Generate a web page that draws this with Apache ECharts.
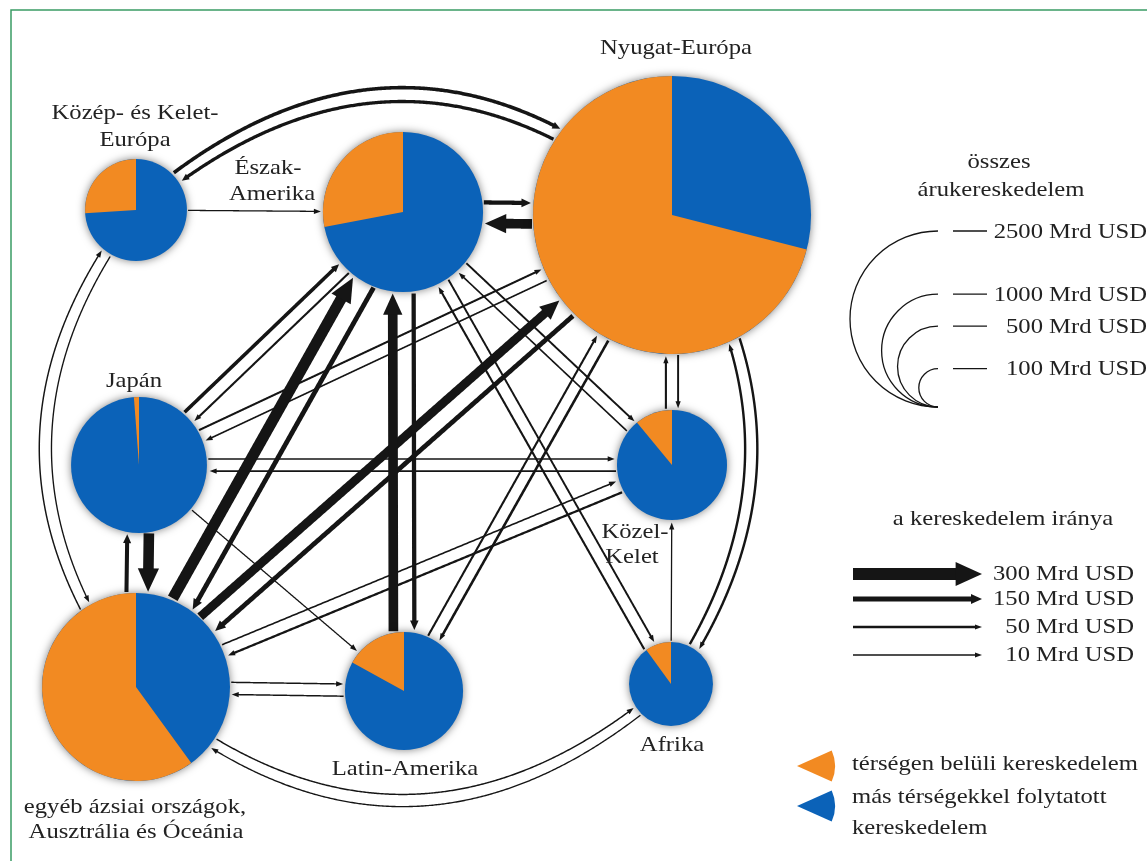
<!DOCTYPE html>
<html>
<head>
<meta charset="utf-8">
<script src="https://cdn.jsdelivr.net/npm/echarts@6/dist/echarts.min.js"></script>
<style>html,body{margin:0;padding:0;background:#fff}#main{width:1147px;height:861px}</style>
</head>
<body>
<div id="main"></div>
<script>
// régiók: középpont (elrendezés), összes kereskedelem (Mrd USD), térségen belüli arány
var regions = ['Közép- és Kelet-Európa', 'Észak-Amerika', 'Nyugat-Európa', 'Japán', 'Közel-Kelet',
  'egyéb ázsiai országok, Ausztrália és Óceánia', 'Latin-Amerika', 'Afrika'];
var regionX = [136, 403, 672, 139, 672, 136, 404, 671];
var regionY = [210, 212, 215, 465, 465, 687, 691, 684];
var totalTrade = [810, 2060, 6350, 1470, 950, 2860, 1100, 540];
var intraShare = [0.26, 0.28, 0.71, 0.012, 0.11, 0.60, 0.17, 0.10];

// kereskedelmi irányok: [honnan, hová, Mrd USD]
var flows = [
  [0, 2, 90], [2, 0, 80], [0, 1, 10], [1, 2, 120], [2, 1, 250],
  [0, 5, 12], [5, 0, 15], [3, 1, 90], [1, 3, 35], [3, 2, 35], [2, 3, 20],
  [3, 4, 15], [4, 3, 25], [3, 6, 10], [3, 5, 270], [5, 3, 110],
  [5, 1, 280], [1, 5, 140], [5, 2, 230], [2, 5, 140], [5, 6, 15], [6, 5, 15],
  [5, 4, 20], [4, 5, 40], [5, 7, 15], [7, 5, 12], [6, 1, 250], [1, 6, 120],
  [6, 2, 35], [2, 6, 50], [1, 4, 30], [4, 1, 20], [1, 7, 30], [7, 1, 35],
  [2, 4, 30], [4, 2, 35], [2, 7, 45], [7, 2, 45], [7, 4, 10]
];
// külső íven futó kapcsolatok és görbületük
var arcPairs = [[0, 2, 0.44], [0, 5, 0.38], [5, 7, 0.43], [2, 7, 0.34]];

// jelmagyarázat
var sizeLegend = [2500, 1000, 500, 100];
var arrowLegend = [300, 150, 50, 10];

var ORANGE = '#F28A22', BLUE = '#0B62B8', INK = '#151515';
var FONT = '"Liberation Serif", "Times New Roman", serif';

function sizeOf(v) { return 2 + 1.72 * Math.sqrt(v); }
var wStops = [[0, 0.9], [10, 1.3], [50, 2.6], [150, 5], [300, 12]];
function lineW(v) {
  for (var i = 1; i < wStops.length; i++) {
    if (v <= wStops[i][0]) {
      var a = wStops[i - 1], b = wStops[i];
      return a[1] + (v - a[0]) / (b[0] - a[0]) * (b[1] - a[1]);
    }
  }
  return wStops[wStops.length - 1][1];
}
function headHW(w) { return Math.max(2.6, w); }
function headL(w) { return Math.max(7, 2.2 * w); }
function dist(p, q) { return Math.hypot(p[0] - q[0], p[1] - q[1]); }

function findFlow(a, b) {
  for (var i = 0; i < flows.length; i++) if (flows[i][0] === a && flows[i][1] === b) return flows[i];
  return null;
}
function arcOf(a, b) {
  for (var i = 0; i < arcPairs.length; i++) {
    var p = arcPairs[i];
    if ((p[0] === a && p[1] === b) || (p[0] === b && p[1] === a)) return p[2];
  }
  return 0;
}

function arrowChildren(pts, w) {
  var hl = headL(w), hw = headHW(w);
  var tip = pts[pts.length - 1];
  var k = pts.length - 2;
  while (k > 0 && dist(pts[k], tip) < hl) k--;
  var p = pts[k], d = dist(p, tip);
  var ux = (tip[0] - p[0]) / d, uy = (tip[1] - p[1]) / d;
  var base = [tip[0] - ux * hl, tip[1] - uy * hl];
  var shaft = pts.slice(0, k + 1).concat([[base[0] + ux, base[1] + uy]]);
  return [
    {type: 'polyline', shape: {points: shaft}, style: {stroke: INK, lineWidth: w, fill: 'none'}},
    {type: 'polygon', shape: {points: [tip, [base[0] - uy * hw, base[1] + ux * hw], [base[0] + uy * hw, base[1] - ux * hw]]},
      style: {fill: INK}}
  ];
}

var nodeData = regions.map(function (n, i) {
  return {name: n, value: [regionX[i], regionY[i], totalTrade[i], intraShare[i]]};
});

function renderFlow(params, api) {
  var f = flows[params.dataIndex];
  var a = f[0], b = f[1], w = lineW(f[2]);
  var A = api.coord([regionX[a], regionY[a]]), B = api.coord([regionX[b], regionY[b]]);
  var rA = api.size([sizeOf(totalTrade[a]), 0])[0], rB = api.size([sizeOf(totalTrade[b]), 0])[0];
  var cen = [0, 0];
  for (var i = 0; i < regionX.length; i++) {
    var c = api.coord([regionX[i], regionY[i]]);
    cen[0] += c[0] / regionX.length; cen[1] += c[1] / regionX.length;
  }
  var rev = findFlow(b, a);
  var off = rev ? (headHW(w) + headHW(lineW(rev[2])) + 7) / 2 : 0;
  var dx = B[0] - A[0], dy = B[1] - A[1], L = Math.hypot(dx, dy);
  var nx = dy / L, ny = -dx / L;
  var P0 = [A[0] + nx * off, A[1] + ny * off], P2 = [B[0] + nx * off, B[1] + ny * off];
  var C = [(P0[0] + P2[0]) / 2, (P0[1] + P2[1]) / 2];
  var curv = arcOf(a, b);
  if (curv) {
    var M = [(A[0] + B[0]) / 2, (A[1] + B[1]) / 2];
    var s = ((M[0] - cen[0]) * nx + (M[1] - cen[1]) * ny) >= 0 ? 1 : -1;
    C = [C[0] + s * nx * curv * L, C[1] + s * ny * curv * L];
  }
  var N = 400, pts = [];
  for (var j = 0; j <= N; j++) {
    var t = j / N, u = 1 - t;
    pts.push([u * u * P0[0] + 2 * u * t * C[0] + t * t * P2[0], u * u * P0[1] + 2 * u * t * C[1] + t * t * P2[1]]);
  }
  var i0 = 0; while (i0 < N && dist(pts[i0], A) < rA + 1) i0++;
  var i1 = N; while (i1 > 0 && dist(pts[i1], B) < rB + 2) i1--;
  return {type: 'group', children: arrowChildren(pts.slice(i0, i1 + 1), w)};
}

function renderPie(params, api) {
  var c = api.coord([api.value(0), api.value(1)]);
  var r = api.size([sizeOf(api.value(2)), 0])[0];
  var sh = api.value(3), top = -Math.PI / 2;
  return {type: 'group', children: [
    {type: 'circle', shape: {cx: c[0], cy: c[1], r: r},
      style: {fill: BLUE, shadowBlur: 8, shadowColor: 'rgba(0,0,0,0.5)'}},
    {type: 'sector', shape: {cx: c[0], cy: c[1], r0: 0, r: r, startAngle: top - sh * 2 * Math.PI, endAngle: top, clockwise: true},
      style: {fill: ORANGE}}
  ]};
}

// a forrás betűi kissé szélesek, ezért vízszintesen nyújtjuk
function txt(s, x, y, align) {
  return {type: 'text', x: x, y: y, z: 10, silent: true, scaleX: 1.12,
    style: {text: s, font: '22px ' + FONT, fill: '#222', align: align || 'center', verticalAlign: 'middle'}};
}

var g = [];
g.push({type: 'rect', shape: {x: 11, y: 10, width: 1300, height: 1000}, style: {fill: 'none', stroke: '#3a9c64', lineWidth: 1.5}, z: 0});
// régiónevek
g.push(txt('Közép- és Kelet-', 135, 113), txt('Európa', 135, 140));
g.push(txt('Észak-', 268, 168), txt('Amerika', 272, 194));
g.push(txt('Nyugat-Európa', 676, 48));
g.push(txt('Japán', 134, 381));
g.push(txt('Közel-', 635, 532), txt('Kelet', 632, 557));
g.push(txt('egyéb ázsiai országok,', 135, 807), txt('Ausztrália és Óceánia', 136, 832));
g.push(txt('Latin-Amerika', 405, 769));
g.push(txt('Afrika', 672, 745));
// méret-jelmagyarázat
g.push(txt('összes', 999, 162), txt('árukereskedelem', 1001, 190));
sizeLegend.forEach(function (v) {
  var r = sizeOf(v), cy = 407 - r, top = 407 - 2 * r;
  g.push({type: 'arc', shape: {cx: 938, cy: cy, r: r, startAngle: Math.PI / 2, endAngle: Math.PI * 1.5, clockwise: true},
    style: {stroke: INK, lineWidth: 1.3, fill: 'none'}});
  g.push({type: 'line', shape: {x1: 953, y1: top, x2: 987, y2: top}, style: {stroke: INK, lineWidth: 1.3}});
  g.push(txt(v + ' Mrd USD', 1147, top + 1, 'right'));
});
// irány-jelmagyarázat
g.push(txt('a kereskedelem iránya', 1003, 519));
var arrowY = [574, 599, 627, 655];
arrowLegend.forEach(function (v, i) {
  g.push({type: 'group', children: arrowChildren([[853, arrowY[i]], [982, arrowY[i]]], lineW(v))});
  g.push(txt(v + ' Mrd USD', 1134, arrowY[i], 'right'));
});
// színek
g.push({type: 'sector', shape: {cx: 797, cy: 766, r0: 0, r: 38, startAngle: -0.42, endAngle: 0.42, clockwise: true}, style: {fill: ORANGE}});
g.push({type: 'sector', shape: {cx: 797, cy: 806, r0: 0, r: 38, startAngle: -0.42, endAngle: 0.42, clockwise: true}, style: {fill: BLUE}});
g.push(txt('térségen belüli kereskedelem', 852, 764, 'left'));
g.push(txt('más térségekkel folytatott', 852, 797, 'left'));
g.push(txt('kereskedelem', 852, 828, 'left'));

var chart = echarts.init(document.getElementById('main'));
chart.setOption({
  animation: false,
  backgroundColor: '#fff',
  grid: {left: 0, right: 0, top: 0, bottom: 0},
  xAxis: {type: 'value', min: 0, max: 1147, show: false},
  yAxis: {type: 'value', min: 0, max: 861, inverse: true, show: false},
  graphic: {elements: g},
  series: [
    {type: 'custom', name: 'irány', coordinateSystem: 'cartesian2d', silent: true, z: 1,
      renderItem: renderFlow, data: flows},
    {type: 'custom', name: 'régiók', coordinateSystem: 'cartesian2d', silent: true, z: 2,
      renderItem: renderPie, data: nodeData}
  ]
});
</script>
</body>
</html>
